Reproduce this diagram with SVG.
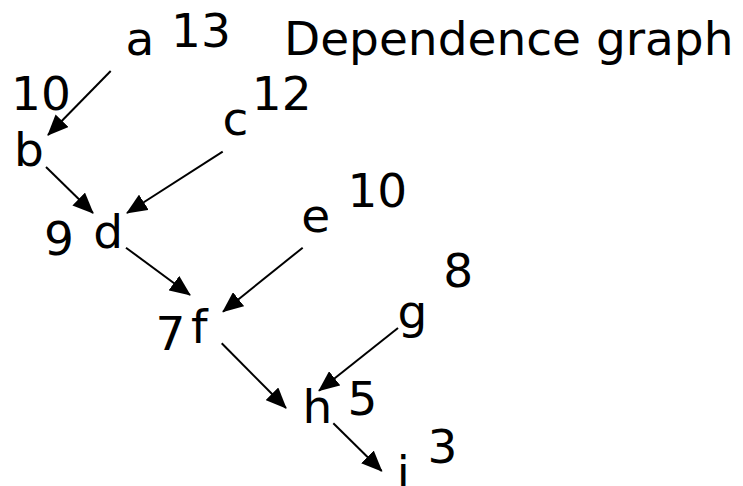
<svg xmlns="http://www.w3.org/2000/svg" width="743" height="486" viewBox="0 0 743 486">
  <style>
    .lbl { font-family: "DejaVu Sans", Verdana, sans-serif; font-size: 47px; fill: #000; text-anchor: middle; }
    .title { text-anchor: start; }
    .edge { stroke: #000; stroke-width: 2; fill: none; marker-end: url(#arrow); }
  </style>
  <defs>
    <marker id="arrow" markerUnits="userSpaceOnUse" viewBox="0 0 21 18" refX="20" refY="9" markerWidth="21" markerHeight="18" orient="auto">
      <path d="M0,0 L21,9 L0,18 z" fill="#000"/>
    </marker>
  </defs>
  <rect width="743" height="486" fill="#fff"/>

  <text class="lbl title" x="284" y="55">Dependence graph</text>

  <!-- dependence edges -->
  <g id="connectors">
    <line class="edge" x1="110.7" y1="71" x2="48" y2="135"/>
    <line class="edge" x1="46" y1="167" x2="93" y2="213"/>
    <line class="edge" x1="222.7" y1="151.7" x2="127" y2="213"/>
    <line class="edge" x1="126" y1="247.7" x2="190" y2="295"/>
    <line class="edge" x1="302.7" y1="247.7" x2="223" y2="311.7"/>
    <line class="edge" x1="221.7" y1="343.3" x2="286" y2="408"/>
    <line class="edge" x1="398" y1="328" x2="319" y2="390.7"/>
    <line class="edge" x1="333.3" y1="423.3" x2="381.7" y2="471"/>
  </g>

  <!-- nodes with their priority numbers -->
  <g id="node-a">
    <text class="lbl" x="140" y="55">a</text>
    <text class="lbl" x="201" y="46.5">13</text>
  </g>
  <g id="node-b">
    <text class="lbl" x="29" y="166">b</text>
    <text class="lbl" x="41" y="110">10</text>
  </g>
  <g id="node-c">
    <text class="lbl" x="235.3" y="134.5">c</text>
    <text class="lbl" x="281.7" y="110">12</text>
  </g>
  <g id="node-d">
    <text class="lbl" x="108.2" y="248">d</text>
    <text class="lbl" x="59" y="254.5">9</text>
  </g>
  <g id="node-e">
    <text class="lbl" x="315.8" y="232">e</text>
    <text class="lbl" x="377.3" y="206.5">10</text>
  </g>
  <g id="node-f">
    <text class="lbl" x="199.2" y="343">f</text>
    <text class="lbl" x="170.5" y="350">7</text>
  </g>
  <g id="node-g">
    <text class="lbl" x="412.5" y="328">g</text>
    <text class="lbl" x="458.3" y="286.5">8</text>
  </g>
  <g id="node-h">
    <text class="lbl" x="317.5" y="423">h</text>
    <text class="lbl" x="362.5" y="415">5</text>
  </g>
  <g id="node-i">
    <text class="lbl" x="403.3" y="489">i</text>
    <text class="lbl" x="442.5" y="463">3</text>
  </g>
</svg>
